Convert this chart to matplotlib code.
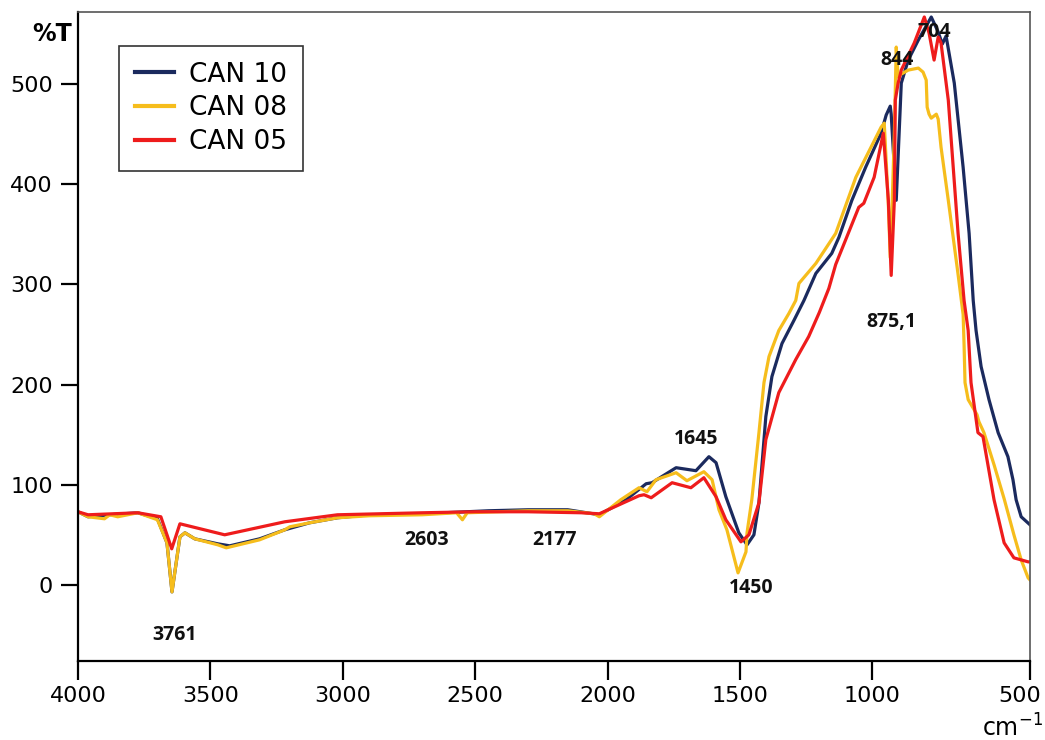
import numpy as np
import matplotlib
matplotlib.use("Agg")
import matplotlib.pyplot as plt
import matplotlib.transforms as mtransforms

# ---------------- data (wavenumber cm-1, %T) ----------------
can10_wn = [4000, 3962, 3880, 3774, 3700, 3664, 3645, 3615, 3596, 3559, 3472, 3427, 3314, 3219,
            3125, 3020, 2900, 2700, 2450, 2300, 2150, 2031, 1930, 1854, 1832, 1741, 1666, 1617,
            1590, 1553, 1504, 1473, 1447, 1428, 1402, 1379, 1341, 1296, 1258, 1213, 1153, 1126,
            1077, 1025, 972, 956, 943, 940, 924, 908, 886, 854, 813, 791, 778, 766, 740, 712,
            693, 680, 671, 655, 630, 601, 570, 554, 544, 528, 500]
can10_t = [73, 68, 70, 72, 66, 42, -7, 48, 52, 46, 41, 39, 46, 55,
           62, 67, 70, 71, 74, 75, 75, 70, 85, 101, 102, 117, 114, 128,
           122, 88, 52, 40, 50, 82, 168, 208, 241, 264, 284, 311, 331, 347,
           384, 417, 451, 469, 478, 470, 384, 501, 524, 544, 567, 552, 540, 548, 501, 417,
           351, 284, 254, 218, 185, 152, 128, 105, 85, 68, 60]

can08_wn = [4000, 3962, 3900, 3880, 3850, 3774, 3700, 3664, 3645, 3615, 3596, 3559, 3472, 3440,
            3314, 3219, 3200, 3125, 3020, 2900, 2700, 2570, 2548, 2530, 2300, 2150, 2050, 2031,
            1950, 1881, 1851, 1817, 1741, 1700, 1636, 1605, 1579, 1549, 1507, 1477, 1473, 1455,
            1428, 1409, 1390, 1353, 1315, 1289, 1277, 1213, 1138, 1062, 972, 962, 949, 943, 937,
            930, 924, 918, 908, 886, 854, 839, 829, 826, 820, 813, 797, 791, 782, 759, 728, 712,
            709, 706, 696, 668, 662, 646, 614, 582, 551, 528, 506, 500]
can08_t = [73, 68, 66, 70, 68, 72, 65, 42, -7, 48, 52, 46, 40, 37,
           45, 55, 58, 62, 67, 69, 70, 72, 65, 72, 74, 74, 71, 68,
           85, 97, 93, 105, 112, 104, 113, 105, 75, 55, 12, 33, 52, 85,
           152, 202, 228, 254, 271, 284, 301, 321, 351, 407, 457, 461, 380, 327, 380,
           450, 537, 507, 510, 514, 516, 512, 504, 477, 470, 466, 470, 465, 437, 384, 310, 270,
           240, 202, 185, 170, 163, 152, 120, 86, 50, 25, 7, 5]

can05_wn = [4000, 3962, 3774, 3687, 3646, 3615, 3446, 3219, 3020, 2700, 2500, 2300, 2100, 2031,
            1881, 1862, 1835, 1756, 1685, 1636, 1590, 1553, 1496, 1466, 1428, 1402, 1353, 1289,
            1240, 1200, 1164, 1138, 1051, 1032, 994, 965, 949, 940, 930, 927, 918, 908, 867, 835,
            820, 804, 791, 782, 759, 728, 709, 696, 687, 665, 649, 614, 582, 551, 506, 500]
can05_t = [73, 70, 72, 68, 36, 61, 50, 63, 70, 72, 73, 73, 72, 71,
           89, 90, 87, 102, 97, 107, 88, 65, 43, 50, 82, 145, 192, 225,
           248, 272, 296, 320, 377, 381, 407, 451, 384, 309, 384, 484, 501, 514, 541, 567,
           551, 524, 547, 541, 484, 351, 284, 254, 202, 152, 148, 85, 42, 27, 23, 23]

series_names = ["CAN 10", "CAN 08", "CAN 05"]
series_colors = ["#1b2a5e", "#f6bd1c", "#ee1c1c"]

peak_labels = ["3761", "2603", "2177", "1645", "1450", "875,1", "844", "704"]
peak_x = [3634, 2684, 2201, 1666, 1458, 940, 921, 804]
peak_y = [-50, 45, 45, 146, -3, 262, 524, 552]

x_ticks = [4000, 3500, 3000, 2500, 2000, 1500, 1000, 500]
y_ticks = [0, 100, 200, 300, 400, 500]

# ---------------- figure ----------------
fig = plt.figure(figsize=(10.45, 7.40), dpi=100)
ax = fig.add_axes([78 / 1045, 1 - 661 / 740, (1030 - 78) / 1045, (661 - 12) / 740])

STRETCH = 158 / 132.6  # region below 1000 cm-1 is expanded in the original


def fwd(x):
    x = np.asarray(x, dtype=float)
    return np.where(x >= 1000, x, 1000 - (1000 - x) * STRETCH)


def inv(u):
    u = np.asarray(u, dtype=float)
    return np.where(u >= 1000, u, 1000 - (1000 - u) / STRETCH)


ax.set_xscale("function", functions=(fwd, inv))

for wn, t, name, col in zip([can10_wn, can08_wn, can05_wn], [can10_t, can08_t, can05_t],
                            series_names, series_colors):
    ax.plot(wn, t, color=col, lw=2.3, label=name, solid_joinstyle="round")

ax.set_xlim(4000, 500)
ax.set_ylim(-76, 572)
ax.set_xticks(x_ticks)
ax.set_xticklabels([str(v) for v in x_ticks])
ax.set_yticks(y_ticks)
ax.set_yticklabels([str(v) for v in y_ticks])
ax.minorticks_off()

for s in ["left", "bottom"]:
    ax.spines[s].set_linewidth(1.6)
    ax.spines[s].set_color("black")
for s in ["top", "right"]:
    ax.spines[s].set_linewidth(1.2)
    ax.spines[s].set_color("#555555")

ax.tick_params(axis="x", direction="out", length=14, width=1.6, pad=4, labelsize=16)
ax.tick_params(axis="y", direction="out", length=12, width=1.6, pad=6, labelsize=16)
ax.tick_params(top=False, right=False)

# shift the last x tick label ("500") slightly left so it stays inside the figure
fig.canvas.draw()
last = ax.get_xticklabels()[-1]
last.set_transform(last.get_transform() + mtransforms.ScaledTranslation(-10 / 100, 0, fig.dpi_scale_trans))

for lab, xx, yy in zip(peak_labels, peak_x, peak_y):
    ax.text(xx, yy, lab, ha="center", va="center", fontsize=14, fontweight="bold",
            family=["Open Sans", "DejaVu Sans"], color="#111111")

leg = ax.legend(loc="upper left", bbox_to_anchor=(0.043, 0.948), borderaxespad=0,
                fontsize=19, frameon=True, fancybox=False, edgecolor="black",
                handlelength=1.5, handletextpad=0.55, labelspacing=0.3, borderpad=0.6)
leg.get_frame().set_linewidth(1.2)
for ln in leg.get_lines():
    ln.set_linewidth(3)

fig.text(52 / 1045, 1 - 34 / 740, "%T", ha="center", va="center", fontsize=17, fontweight="bold")
fig.text(1012 / 1045, 1 - 728 / 740, "cm$^{-1}$", ha="center", va="center", fontsize=17)

fig.savefig("out.png", dpi=100)
